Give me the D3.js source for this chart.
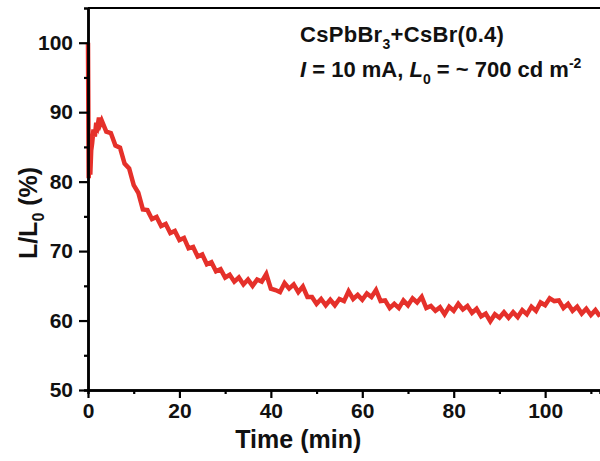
<!DOCTYPE html>
<html>
<head>
<meta charset="utf-8">
<script src="https://cdn.jsdelivr.net/npm/d3@7"></script>
<style>
  body { margin: 0; background: #fff; }
  text { font-family: "Liberation Sans", Arial, sans-serif; font-weight: bold; }
</style>
</head>
<body>
<div class="vis"></div>
<script>
// time (min) and L/L0 (%)
const times = [0, 0.15, 0.3, 0.5, 0.7, 0.9, 1.2, 1.5, 1.8, 2.1, 2.4, 2.7, 3,
    4, 5, 6, 7, 8, 9, 10, 11, 12, 13, 14, 15, 16, 17, 18, 19, 20,
    21, 22, 23, 24, 25, 26, 27, 28, 29, 30, 31, 32, 33, 34, 35, 36, 37, 38, 39, 40,
    41, 42, 43, 44, 45, 46, 47, 48, 49, 50, 51, 52, 53, 54, 55, 56, 57, 58, 59, 60,
    61, 62, 63, 64, 65, 66, 67, 68, 69, 70, 71, 72, 73, 74, 75, 76, 77, 78, 79, 80,
    81, 82, 83, 84, 85, 86, 87, 88, 89, 90, 91, 92, 93, 94, 95, 96, 97, 98, 99, 100,
    101, 102, 103, 104, 105, 106, 107, 108, 109, 110, 111, 112];
const luminance = [100, 80.5, 84, 81, 84.5, 85.5, 87.5, 86.5, 88.5, 88, 89.2, 88.3, 88.8,
    87.2, 87.0, 85.2, 84.9, 82.6, 81.9, 79.5, 78.4, 76.0, 75.9, 74.6, 74.9, 73.6, 73.9, 72.6, 72.9, 71.6,
    71.9, 70.4, 70.6, 69.2, 69.5, 68.1, 68.4, 67.1, 67.4, 66.2, 66.6, 65.6, 66.2, 65.2, 65.9, 65.0, 65.9, 65.6, 66.7, 64.6,
    64.4, 64.1, 65.4, 64.6, 65.2, 64.1, 64.9, 63.4, 63.4, 62.4, 63.1, 62.2, 63.0, 62.2, 63.1, 62.8, 64.2, 63.1, 63.7, 63.0,
    63.9, 63.4, 64.4, 62.8, 62.9, 61.8, 62.4, 61.8, 62.9, 62.2, 63.2, 62.6, 63.4, 61.8, 62.1, 61.4, 61.9, 60.9, 62.0, 61.4,
    62.4, 61.6, 62.1, 61.1, 61.7, 60.6, 61.0, 59.9, 60.9, 60.4, 61.2, 60.4, 61.2, 60.5, 61.5, 60.9, 62.0, 61.4, 62.6, 62.2,
    63.2, 62.8, 62.9, 61.8, 62.4, 61.4, 62.0, 61.0, 61.7, 60.8, 61.5, 60.6];

const xTicks = [0, 20, 40, 60, 80, 100];
const xMinor = [10, 30, 50, 70, 90, 110];
const yTicks = [50, 60, 70, 80, 90, 100];
const yMinor = [55, 65, 75, 85, 95];

const margin = { top: 8, left: 88, bottom: 71, right: 0 };
const width = 600 - margin.left,
    height = 461 - margin.top - margin.bottom;

const svg = d3.select('.vis')
    .append('svg')
    .attr('width', 600)
    .attr('height', 461);

const g = svg.append('g')
    .attr('transform', 'translate(' + margin.left + ',' + margin.top + ')');

const x = d3.scaleLinear().domain([0, 112]).range([0, width]);
const y = d3.scaleLinear().domain([50, 105]).range([height, 0]);

// top frame line
g.append('line')
    .attr('x1', 0).attr('x2', width)
    .attr('y1', 0).attr('y2', 0)
    .attr('stroke', '#000').attr('stroke-width', 2);

// the curve
const line = d3.line()
    .x(d => x(d[0]))
    .y(d => y(d[1]));

g.append('path')
    .datum(times.map((t, i) => [t, luminance[i]]))
    .attr('d', line)
    .attr('fill', 'none')
    .attr('stroke', '#e5302a')
    .attr('stroke-width', 4.5)
    .attr('stroke-linejoin', 'miter');

// axes
function styleAxis(sel) {
    sel.select('.domain').attr('stroke', '#000').attr('stroke-width', 2.5);
    sel.selectAll('.tick line').attr('stroke', '#000').attr('stroke-width', 2.2);
    sel.selectAll('.tick text')
        .attr('fill', '#111')
        .style('font-size', '21px');
}

g.append('g')
    .attr('transform', 'translate(0,' + height + ')')
    .call(d3.axisBottom(x).tickValues(xMinor).tickSize(4).tickFormat(''))
    .call(styleAxis);

g.append('g')
    .attr('transform', 'translate(0,' + height + ')')
    .call(d3.axisBottom(x).tickValues(xTicks).tickSize(8).tickPadding(5).tickSizeOuter(0))
    .call(styleAxis);

g.append('g')
    .call(d3.axisLeft(y).tickValues(yMinor).tickSize(4).tickFormat(''))
    .call(styleAxis);

g.append('g')
    .call(d3.axisLeft(y).tickValues(yTicks).tickSize(9).tickPadding(6).tickSizeOuter(0))
    .call(styleAxis);

// axis titles
svg.append('text')
    .attr('x', margin.left + x(46))
    .attr('y', 448)
    .attr('text-anchor', 'middle')
    .style('font-size', '25px')
    .attr('fill', '#111')
    .text('Time (min)');

const yTitle = svg.append('text')
    .attr('transform', 'translate(37,' + 213 + ') rotate(-90)')
    .attr('text-anchor', 'middle')
    .style('font-size', '25px')
    .attr('fill', '#111');
yTitle.append('tspan').text('L/L');
yTitle.append('tspan').attr('dy', 7).style('font-size', '16px').text('0');
yTitle.append('tspan').attr('dy', -7).text(' (%)');

// annotation
const t1 = svg.append('text')
    .attr('x', 300).attr('y', 42)
    .style('font-size', '22px')
    .style('letter-spacing', '0.3px')
    .attr('fill', '#111');
t1.append('tspan').text('CsPbBr');
t1.append('tspan').attr('dy', 7).style('font-size', '14px').text('3');
t1.append('tspan').attr('dy', -7).text('+CsBr(0.4)');

const t2 = svg.append('text')
    .attr('x', 300).attr('y', 77)
    .style('font-size', '22px')
    .attr('fill', '#111');
t2.append('tspan').style('font-style', 'italic').text('I');
t2.append('tspan').text(' = 10 mA, ');
t2.append('tspan').style('font-style', 'italic').text('L');
t2.append('tspan').attr('dy', 7).style('font-size', '14px').text('0');
t2.append('tspan').attr('dy', -7).text(' = ~ 700 cd m');
t2.append('tspan').attr('dy', -9).style('font-size', '14px').text('-2');
</script>
</body>
</html>
